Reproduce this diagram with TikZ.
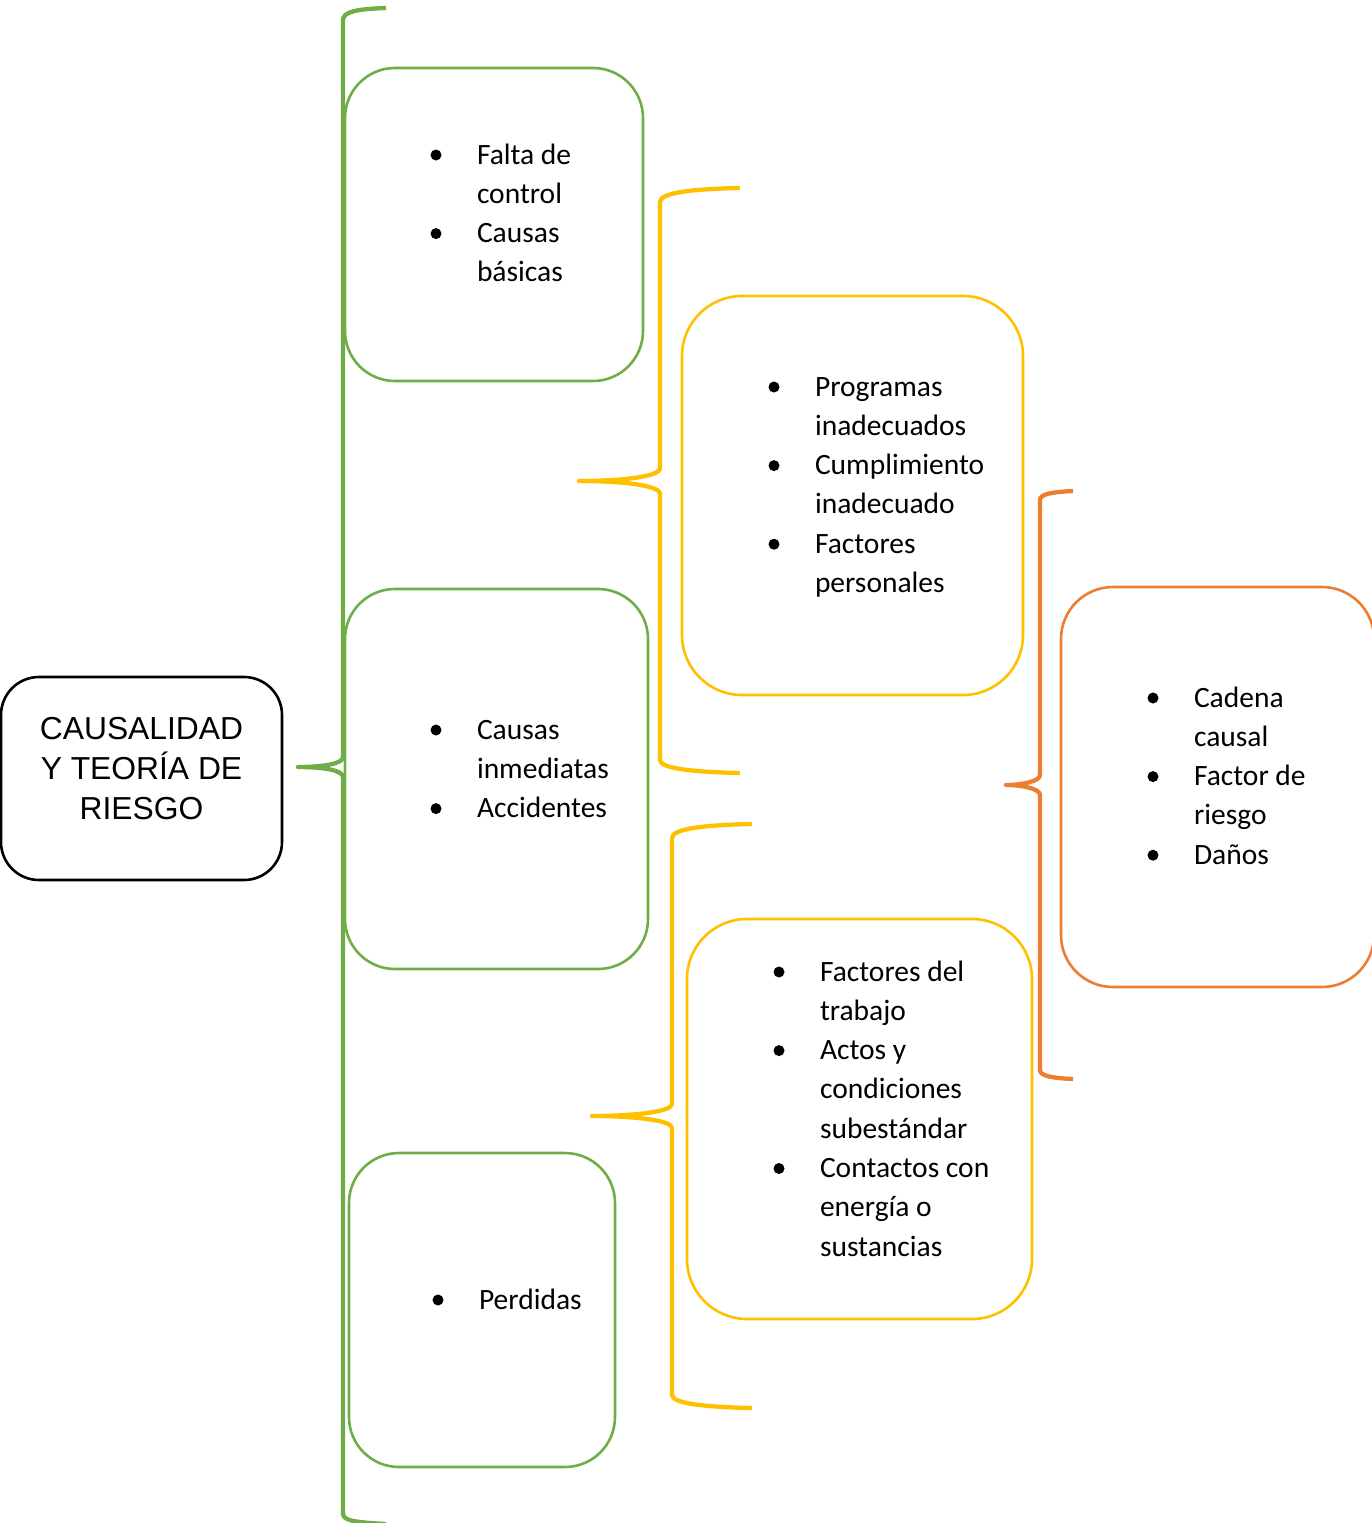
\documentclass[tikz,border=0pt]{standalone}
\usepackage{fontspec}
\setmainfont{Carlito}
\newfontfamily\arialf{Liberation Sans}
\definecolor{cgreen}{RGB}{112,173,71}
\definecolor{cyellow}{RGB}{255,192,0}
\definecolor{corange}{RGB}{237,125,49}
\newcommand{\blt}{\makebox[46.5pt][l]{\raisebox{3.5pt}{\tikz\fill (0,0) circle (5.5pt);}}}
\newcommand{\blist}[1]{\begin{tabular}[t]{@{}l@{}l@{}}#1\end{tabular}}
\tikzset{
  box/.style={draw, line width=2.6pt, inner sep=0pt, outer sep=0pt},
  mainbox/.style={box, draw=black, rounded corners=38pt},
  gbox/.style={box, draw=cgreen, rounded corners=50pt},
  ybox/.style={box, draw=cyellow, rounded corners=60pt},
  obox/.style={box, draw=corange, rounded corners=52pt},
  brace/.style={line width=4.3pt, line join=round},
  txt/.style={inner sep=0pt, outer sep=0pt, anchor=base west, font=\fontsize{29.5}{39.3}\selectfont},
}
\begin{document}
\begin{tikzpicture}[x=1pt,y=-1pt]
\useasboundingbox (0,0) rectangle (1371,1523);
% boxes
\node (main) [mainbox, minimum width=281pt, minimum height=203pt] at (141.5,778.5) {};
\node (g1) [gbox, minimum width=298pt, minimum height=313pt] at (494,224.5) {};
\node (g2) [gbox, minimum width=303pt, minimum height=380pt] at (496.5,779) {};
\node (g3) [gbox, minimum width=266pt, minimum height=314pt] at (482,1310) {};
\node (y1) [ybox, minimum width=341pt, minimum height=399pt] at (852.5,495.5) {};
\node (y2) [ybox, minimum width=345pt, minimum height=400pt] at (859.5,1119) {};
\node (o1) [obox, minimum width=313pt, minimum height=400pt] at (1217.5,787) {};
% texts
\node (maintxt) [inner sep=0pt, anchor=base, font=\arialf\fontsize{31.8}{40}\selectfont] at (141.5,739.5)
  {\begin{tabular}[t]{@{}c@{}}CAUSALIDAD\\Y TEORÍA DE\\RIESGO\end{tabular}};
\node (t1) [txt] at (430.5,164) {\blist{\blt & Falta de\\ & control\\ \blt & Causas\\ & básicas}};
\node (t2) [txt] at (430.5,739) {\blist{\blt & Causas\\ & inmediatas\\ \blt & Accidentes}};
\node (t3) [txt] at (432.5,1309) {\blist{\blt & Perdidas}};
\node (t4) [txt] at (768.5,396) {\blist{\blt & Programas\\ & inadecuados\\ \blt & Cumplimiento\\ & inadecuado\\ \blt & Factores\\ & personales}};
\node (t5) [txt] at (773.5,981) {\blist{\blt & Factores del\\ & trabajo\\ \blt & Actos y\\ & condiciones\\ & subestándar\\ \blt & Contactos con\\ & energía o\\ & sustancias}};
\node (t6) [txt] at (1147.5,707) {\blist{\blt & Cadena\\ & causal\\ \blt & Factor de\\ & riesgo\\ \blt & Daños}};
% braces
\coordinate (gtip) at (298,767);
\coordinate (ytip1) at (579,481);
\coordinate (ytip2) at (592,1116);
\coordinate (otip) at (1006,785);
\draw[brace, cgreen] (386,8) .. controls (356,9) and (343,12) .. (343,20) -- (343,757)
  .. controls (343,764) and (322,767) .. (gtip)
  .. controls (322,767) and (343,770) .. (343,777) -- (343,1513)
  .. controls (343,1520) and (350,1522) .. (386,1524);
\draw[brace, cyellow] (740,188) .. controls (690,189) and (660,193) .. (660,202) -- (660,468)
  .. controls (660,477) and (620,481) .. (ytip1)
  .. controls (620,481) and (660,485) .. (660,494) -- (660,760)
  .. controls (660,768) and (690,772) .. (740,773);
\draw[brace, cyellow] (752,824) .. controls (702,825) and (672,829) .. (672,838) -- (672,1104)
  .. controls (672,1112) and (632,1116) .. (ytip2)
  .. controls (632,1116) and (672,1120) .. (672,1128) -- (672,1395)
  .. controls (672,1403) and (702,1407) .. (752,1408);
\draw[brace, corange] (1073,491) .. controls (1052,492) and (1040,494) .. (1040,500) -- (1040,775)
  .. controls (1040,781) and (1023,785) .. (otip)
  .. controls (1023,785) and (1040,789) .. (1040,795) -- (1040,1070)
  .. controls (1040,1076) and (1052,1078) .. (1073,1079);
\end{tikzpicture}
\end{document}
